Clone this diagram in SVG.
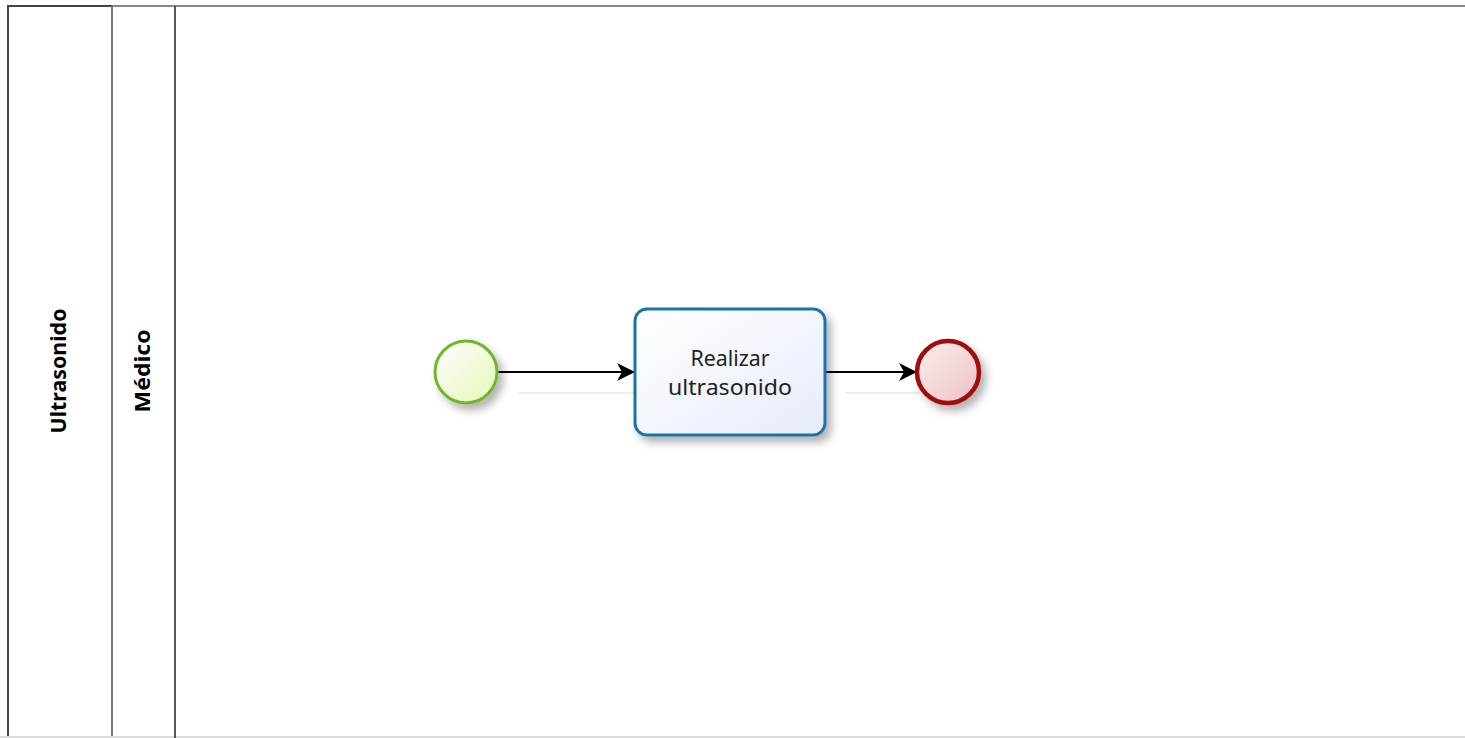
<svg xmlns="http://www.w3.org/2000/svg" width="1465" height="738" viewBox="0 0 1465 738">
<style>
.lbl{font-family:"Noto Sans","DejaVu Sans",sans-serif;font-size:21px;font-weight:bold;fill:#000}
.txt{font-family:"Noto Sans","DejaVu Sans",sans-serif;font-size:21px;fill:#222}
.conn{stroke:#000;stroke-width:2;fill:none}
.shadowline{stroke:#eee;stroke-width:2;fill:none}
</style>
<defs>
<marker id="arr" markerWidth="20" markerHeight="20" refX="18" refY="9" orient="auto" markerUnits="userSpaceOnUse">
<path d="M0,0 L18,9 L0,18 L5,9 Z" fill="#000"/>
</marker>
<linearGradient id="gStart" x1="0" y1="0" x2="1" y2="1">
<stop offset="0" stop-color="#ffffff"/><stop offset="1" stop-color="#e4f7b8"/>
</linearGradient>
<linearGradient id="gEnd" x1="0" y1="0" x2="1" y2="1">
<stop offset="0" stop-color="#fdf0f0"/><stop offset="1" stop-color="#ecc0c0"/>
</linearGradient>
<linearGradient id="gTask" x1="0" y1="0" x2="1" y2="1">
<stop offset="0" stop-color="#ffffff"/><stop offset="1" stop-color="#e6ecfa"/>
</linearGradient>
<filter id="sh" x="-30%" y="-30%" width="170%" height="170%">
<feGaussianBlur in="SourceAlpha" stdDeviation="4"/>
<feOffset dx="5" dy="6" result="b"/>
<feComponentTransfer><feFuncA type="linear" slope="0.3"/></feComponentTransfer>
<feMerge><feMergeNode/><feMergeNode in="SourceGraphic"/></feMerge>
</filter>
</defs>
<rect width="1465" height="738" fill="#fff"/>
<g id="pool">
<line x1="8" y1="6" x2="1465" y2="6" stroke="#888" stroke-width="2"/>
<line x1="8" y1="6" x2="112" y2="6" stroke="#444" stroke-width="2"/>
<line x1="8" y1="5" x2="8" y2="738" stroke="#444" stroke-width="2"/>
<line x1="112" y1="6" x2="112" y2="738" stroke="#777" stroke-width="2"/>
<line x1="0" y1="737" x2="1465" y2="737" stroke="#ddd" stroke-width="2"/>
<text class="lbl" transform="translate(66,371) rotate(-90)" text-anchor="middle" textLength="125" lengthAdjust="spacingAndGlyphs">Ultrasonido</text>
</g>
<g id="lane">
<line x1="175" y1="6" x2="175" y2="738" stroke="#555" stroke-width="2"/>
<text class="lbl" transform="translate(150,371) rotate(-90)" text-anchor="middle" textLength="83" lengthAdjust="spacingAndGlyphs">Médico</text>
</g>
<g id="connectors">
<line class="shadowline" x1="518" y1="393" x2="635" y2="393"/>
<line class="shadowline" x1="845" y1="393" x2="920" y2="393"/>
<line class="conn" x1="498" y1="372" x2="635" y2="372" marker-end="url(#arr)"/>
<line class="conn" x1="826" y1="372" x2="917" y2="372" marker-end="url(#arr)"/>
</g>
<g id="start">
<circle cx="466" cy="372" r="31" fill="url(#gStart)" stroke="#6fb62a" stroke-width="3" filter="url(#sh)"/>
</g>
<g id="task">
<rect x="635" y="309" width="190" height="126" rx="12" fill="url(#gTask)" stroke="#1f73a6" stroke-width="3" filter="url(#sh)"/>
<text class="txt" x="730" y="366" text-anchor="middle" textLength="79" lengthAdjust="spacingAndGlyphs">Realizar</text>
<text class="txt" x="730" y="395" text-anchor="middle" textLength="124" lengthAdjust="spacingAndGlyphs">ultrasonido</text>
</g>
<g id="end">
<circle cx="948" cy="372" r="31" fill="url(#gEnd)" stroke="#a00c0c" stroke-width="4.5" filter="url(#sh)"/>
</g>
</svg>
